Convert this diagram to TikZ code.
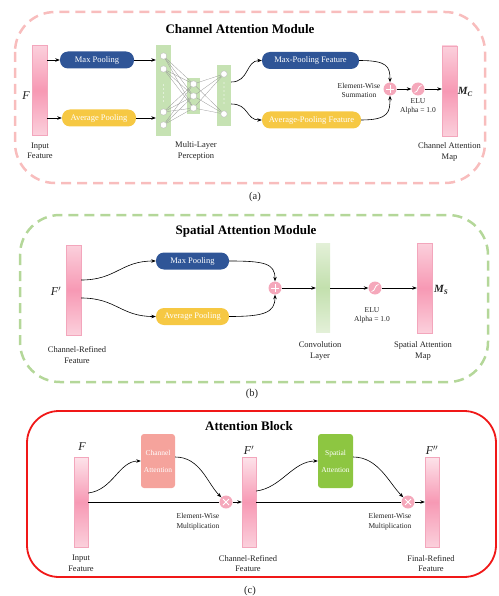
\documentclass[tikz,border=0pt]{standalone}
\usepackage{fontspec}
\setmainfont{Liberation Serif}
\usetikzlibrary{arrows.meta,calc,backgrounds}
\definecolor{pinkmid}{HTML}{F799B4}
\definecolor{pinklight}{HTML}{FBD0DC}
\definecolor{pinkpale}{HTML}{FDE3EA}
\definecolor{pinkedge}{HTML}{F3A6BC}
\definecolor{poolblue}{HTML}{2F5597}
\definecolor{poolyellow}{HTML}{F6C843}
\definecolor{mlpgreen}{HTML}{C6E2B3}
\definecolor{greenlight}{HTML}{E3F0D8}
\definecolor{greenmid}{HTML}{C3E0AE}
\definecolor{dashpink}{HTML}{F8BDBD}
\definecolor{dashgreen}{HTML}{B4D799}
\definecolor{opc}{HTML}{F5A8BB}
\definecolor{chatt}{HTML}{F5A39C}
\definecolor{spatt}{HTML}{8DC641}
\definecolor{txt}{HTML}{222222}
\definecolor{blockred}{HTML}{F01818}
\newcommand\opplus[1]{\draw[white,line width=0.9pt] ($(#1)+(-4,0)$) -- ($(#1)+(4,0)$) ($(#1)+(0,-4)$) -- ($(#1)+(0,4)$);}
\newcommand\optimes[1]{\draw[white,line width=0.8pt] ($(#1)+(-3,-3)$) -- ($(#1)+(3,3)$) ($(#1)+(-3,3)$) -- ($(#1)+(3,-3)$);}
\newcommand\opsig[1]{\draw[white,line width=0.8pt] ($(#1)+(-3.5,3.5)$) .. controls +(4,0) and +(-4,0) .. ($(#1)+(3.5,-3.5)$);}
\begin{document}
\begin{tikzpicture}[x=1pt,y=-1pt,
  fbar/.style={rectangle,inner sep=0,minimum width=15pt,minimum height=90pt,draw=pinkedge,line width=0.4pt,top color=pinklight,bottom color=pinklight,middle color=pinkmid},
  fbarc/.style={rectangle,inner sep=0,minimum width=14pt,minimum height=90pt,draw=pinkedge,line width=0.4pt,top color=pinkpale,bottom color=pinklight,middle color=pinkmid},
  gbar/.style={rectangle,inner sep=0,draw=none,top color=greenlight,bottom color=greenlight,middle color=greenmid},
  mlpbar/.style={rectangle,inner sep=0,draw=none,fill=mlpgreen},
  pool/.style={rectangle,rounded corners=8pt,minimum height=17pt,inner sep=0,text=white,font=\fontsize{8.5}{10}\selectfont},
  attbox/.style={rectangle,rounded corners=3pt,minimum width=34pt,minimum height=54pt,inner sep=0,text=white,align=center,font=\fontsize{7.5}{9}\selectfont},
  op/.style={circle,fill=opc,minimum size=13pt,inner sep=0},
  neuron/.style={circle,fill=white,draw=gray!60,line width=0.3pt,minimum size=6.5pt,inner sep=0},
  lbl/.style={font=\fontsize{8.5}{10.5}\selectfont,text=txt,align=center,inner sep=0},
  slbl/.style={font=\fontsize{7.5}{9.5}\selectfont,text=txt,align=center,inner sep=0},
  ttl/.style={font=\fontsize{13}{15}\selectfont\bfseries,text=black,inner sep=0},
  captxt/.style={font=\fontsize{10.5}{12}\selectfont,text=txt,inner sep=0},
  arr/.style={-{Stealth[length=4.5pt,width=3.5pt]},line width=0.6pt},
  ln/.style={line width=0.6pt},
  conn/.style={gray!80,line width=0.3pt},
  flab/.style={font=\fontsize{12}{14}\selectfont\itshape,text=txt,inner sep=0},
  mlab/.style={font=\fontsize{11}{13}\selectfont\itshape\bfseries,text=txt,inner sep=0}
]
\useasboundingbox (0,0) rectangle (498,596);

% ================= (a) Channel Attention Module
\draw[dashpink,line width=2.5pt,dash pattern=on 10pt off 6pt,rounded corners=40pt] (15,12) rectangle (485,183);
\node[ttl] (ta) at (240,29) {Channel Attention Module};

\node[fbar] (Fa) at (39.5,90.5) {};
\node[flab] (Fal) at (26,96) {F};
\node[lbl] (Fat) at (40,151) {Input\\Feature};
\node[pool,fill=poolblue,minimum width=74pt] (mpa) at (97,60) {Max Pooling};
\node[pool,fill=poolyellow,minimum width=74pt] (apa) at (99,118) {Average Pooling};
\draw[arr] (Fa.east |- mpa) -- (mpa.west);
\draw[arr] (Fa.east |- apa) -- (apa.west);

\begin{pgfonlayer}{background}
\node[mlpbar,minimum width=15pt,minimum height=91pt] (L1) at (163.5,90.5) {};
\node[mlpbar,minimum width=13pt,minimum height=36pt] (L2) at (193.5,96) {};
\node[mlpbar,minimum width=14pt,minimum height=61pt] (L3) at (224,95.5) {};
\end{pgfonlayer}
\draw[arr] (mpa.east) -- (mpa.east -| L1.west);
\draw[arr] (apa.east) -- (apa.east -| L1.west);
\foreach \n/\y in {1/56,2/69,3/112,4/125} \node[neuron] (na\n) at (163.5,\y) {};
\foreach \n/\y in {1/84,2/96,3/108} \node[neuron] (nb\n) at (193.5,\y) {};
\foreach \n/\y in {1/74,2/114} \node[neuron] (nc\n) at (224,\y) {};
\begin{pgfonlayer}{background}
\foreach \i in {1,...,4} \foreach \j in {1,2,3} \draw[conn] (na\i) -- (nb\j);
\foreach \i in {1,2,3} \foreach \j in {1,2} \draw[conn] (nb\i) -- (nc\j);
\end{pgfonlayer}
\foreach \y in {85,89,93,97,101} \fill[white] (163.5,\y) circle (0.7pt);
\foreach \y in {83,87,91,95,99,103} \fill[white] (224,\y) circle (0.6pt);
\node[lbl] (mlpt) at (196,151) {Multi-Layer\\Perception};

\node[pool,fill=poolblue,minimum width=97pt] (mpf) at (310.5,60.5) {Max-Pooling Feature};
\node[pool,fill=poolyellow,minimum width=99pt] (apf) at (311.5,120) {Average-Pooling Feature};
\draw[arr] ($(L3.east)+(0,-13.5)$) .. controls +(18,0) and +(-16,0) .. (mpf.west);
\draw[arr] ($(L3.east)+(0,8.5)$) .. controls +(18,0) and +(-16,0) .. (apf.west);

\node[op] (s1) at (390,89) {};
\opplus{s1}
\draw[arr] (mpf.east) .. controls +(28,0) and +(0,-16) .. (s1.north);
\draw[arr] (apf.east) .. controls +(28,0) and +(0,16) .. (s1.south);
\node[slbl] (sumt) at (359,90.5) {Element-Wise\\Summation};
\node[op] (e1) at (418,89) {};
\opsig{e1}
\draw[arr] (s1.east) -- (e1.west);
\node[fbar] (Mc) at (449.5,91) {};
\draw[arr] (e1.east) -- (e1.east -| Mc.west);
\node[slbl] (elua) at (418,106.5) {ELU\\Alpha = 1.0};
\node[mlab] (Mcl) at (465,92) {M\raisebox{-0.5ex}{\fontsize{7}{8}\selectfont C}};
\node[lbl] (Mct) at (449.5,152) {Channel Attention\\Map};
\node[captxt] (capa) at (255,197) {(a)};

% ================= (b) Spatial Attention Module
\draw[dashgreen,line width=2.5pt,dash pattern=on 10pt off 6pt,rounded corners=40pt] (20,215) rectangle (488,382);
\node[ttl] (tb) at (246,231) {Spatial Attention Module};

\node[fbar] (Fb) at (73.5,290) {};
\node[flab] (Fbl) at (56,291) {F$'$};
\node[lbl] (Fbt) at (77,355) {Channel-Refined\\Feature};
\node[pool,fill=poolblue,minimum width=73pt] (mpb) at (192.5,261) {Max Pooling};
\node[pool,fill=poolyellow,minimum width=73pt] (apb) at (192.5,316.5) {Average Pooling};
\draw[arr] ($(Fb.east)+(0,-10)$) .. controls +(35,0) and +(-35,0) .. (mpb.west);
\draw[arr] ($(Fb.east)+(0,8)$) .. controls +(35,0) and +(-35,0) .. (apb.west);
\node[op] (s2) at (275,288) {};
\opplus{s2}
\draw[arr] (mpb.east) .. controls +(35,0) and +(0,-18) .. (s2.north);
\draw[arr] (apb.east) .. controls +(35,0) and +(0,18) .. (s2.south);
\node[gbar,minimum width=14pt,minimum height=89pt] (cv) at (323,287.5) {};
\draw[arr] (s2.east) -- (s2.east -| cv.west);
\node[op] (e2) at (375,288) {};
\opsig{e2}
\draw[arr] (cv.east |- e2) -- (e2.west);
\node[fbar] (Ms) at (424.5,288) {};
\draw[arr] (e2.east) -- (e2.east -| Ms.west);
\node[slbl] (elub) at (372,315.5) {ELU\\Alpha = 1.0};
\node[lbl] (cvt) at (320,351) {Convolution\\Layer};
\node[lbl] (Mst) at (423,351) {Spatial Attention\\Map};
\node[mlab] (Msl) at (441,290) {M\raisebox{-0.5ex}{\fontsize{7}{8}\selectfont S}};
\node[captxt] (capb) at (252,394) {(b)};

% ================= (c) Attention Block
\draw[blockred,line width=1.8pt,rounded corners=32pt] (27,411) rectangle (496,577);
\node[ttl] (tc) at (249,426) {Attention Block};

\node[fbarc] (F3) at (81,502) {};
\node[flab] (F3l) at (82,447) {F};
\node[lbl] (F3t) at (81,563.5) {Input\\Feature};
\node[attbox,fill=chatt] (ca) at (158,461) {Channel\\[8pt]Attention};
\node[op] (m1) at (226,502) {};
\optimes{m1}
\draw[ln] (F3.east |- m1) -- (m1.west);
\draw[arr] ($(F3.east)+(0,-9)$) .. controls +(25,-3) and +(-22,0) .. (ca.west);
\draw[arr] ($(ca.east)+(0,-4)$) .. controls +(25,0) and +(-14,-14) .. (m1.north west);
\node[fbarc] (F4) at (249,502) {};
\draw[arr] (m1.east) -- (m1.east -| F4.west);
\node[flab] (F4l) at (249,450) {F$'$};
\node[slbl] (mt1) at (198,521.5) {Element-Wise\\Multiplication};
\node[lbl] (F4t) at (248,563.5) {Channel-Refined\\Feature};

\node[attbox,fill=spatt,minimum width=35pt] (sa) at (335.5,461) {Spatial\\[8pt]Attention};
\node[op] (m2) at (408,502) {};
\optimes{m2}
\draw[ln] (F4.east |- m2) -- (m2.west);
\draw[arr] ($(F4.east)+(0,-11)$) .. controls +(25,-3) and +(-25,0) .. (sa.west);
\draw[arr] ($(sa.east)+(0,-4)$) .. controls +(25,0) and +(-14,-14) .. (m2.north west);
\node[fbarc] (F5) at (432,502) {};
\draw[arr] (m2.east) -- (m2.east -| F5.west);
\node[flab] (F5l) at (432,450) {F$''$};
\node[slbl] (mt2) at (390,521.5) {Element-Wise\\Multiplication};
\node[lbl] (F5t) at (431,563.5) {Final-Refined\\Feature};
\node[captxt] (capc) at (250,591) {(c)};
\end{tikzpicture}
\end{document}
